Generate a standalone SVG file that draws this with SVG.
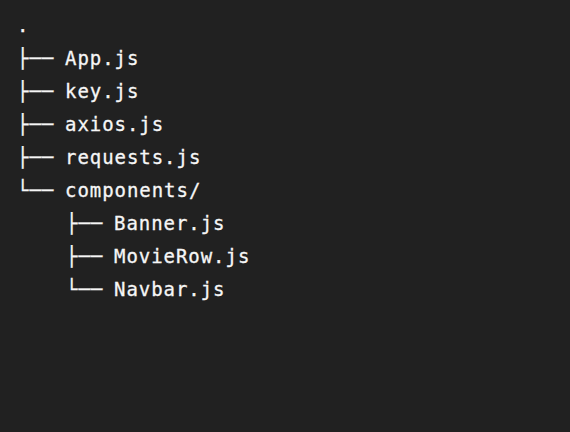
<svg xmlns="http://www.w3.org/2000/svg" width="570" height="432" viewBox="0 0 570 432">
<style>
text{font-family:"DejaVu Sans Mono","Liberation Mono",monospace;font-size:19px;letter-spacing:0.95px;fill:#f6f6f6;stroke:#f6f6f6;stroke-width:0.3px;white-space:pre}
</style>
<rect width="570" height="432" fill="#212121"/>
<g id="connectors">
<text x="17" y="65">├──</text>
<text x="17" y="98">├──</text>
<text x="17" y="131">├──</text>
<text x="17" y="164">├──</text>
<text x="17" y="197">└──</text>
<text x="66" y="230">├──</text>
<text x="66" y="263">├──</text>
<text x="66" y="296">└──</text>
</g>
<g id="root"><text x="17" y="32">.</text></g>
<g id="app"><text x="65" y="65">App.js</text></g>
<g id="key"><text x="65" y="98">key.js</text></g>
<g id="axios"><text x="65" y="131">axios.js</text></g>
<g id="requests"><text x="65" y="164">requests.js</text></g>
<g id="components"><text x="65" y="197">components/</text></g>
<g id="banner"><text x="114" y="230">Banner.js</text></g>
<g id="movierow"><text x="114" y="263">MovieRow.js</text></g>
<g id="navbar"><text x="114" y="296">Navbar.js</text></g>
</svg>
